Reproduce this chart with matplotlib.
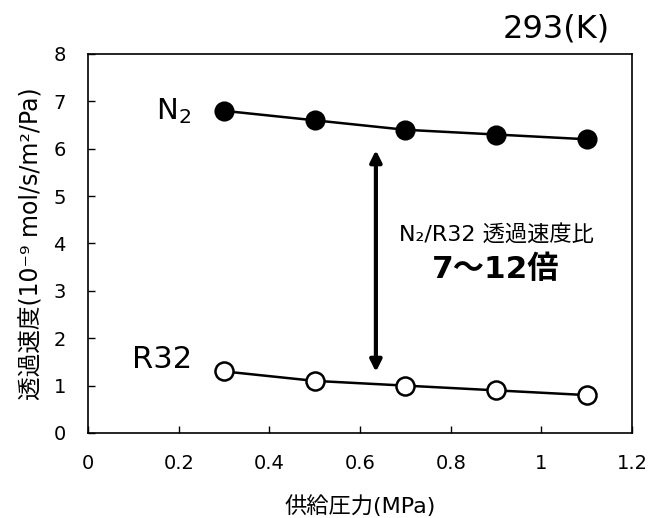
import matplotlib.pyplot as plt

plt.rcParams['font.family'] = ['DejaVu Sans', 'Noto Sans CJK JP']

pressure = [0.3, 0.5, 0.7, 0.9, 1.1]
n2_rate = [6.8, 6.6, 6.4, 6.3, 6.2]
r32_rate = [1.3, 1.1, 1.0, 0.9, 0.8]
x_ticks = [0, 0.2, 0.4, 0.6, 0.8, 1, 1.2]
x_tick_labels = ['0', '0.2', '0.4', '0.6', '0.8', '1', '1.2']
y_ticks = [0, 1, 2, 3, 4, 5, 6, 7, 8]

fig = plt.figure(figsize=(6.54, 5.18), dpi=100)
ax = fig.add_axes([0.1346, 0.1641, 0.8318, 0.7317])

ax.plot(pressure, n2_rate, color='black', lw=1.8, marker='o', markersize=13,
        markerfacecolor='black', markeredgecolor='black', markeredgewidth=1.5)
ax.plot(pressure, r32_rate, color='black', lw=1.8, marker='o', markersize=13,
        markerfacecolor='white', markeredgecolor='black', markeredgewidth=1.8)

ax.set_xlim(0, 1.2)
ax.set_ylim(0, 8)
ax.set_xticks(x_ticks)
ax.set_xticklabels(x_tick_labels)
ax.set_yticks(y_ticks)
ax.tick_params(axis='both', direction='in', length=5, width=1, labelsize=14)
ax.tick_params(axis='x', pad=15)
ax.tick_params(axis='y', pad=16)
for sp in ax.spines.values():
    sp.set_linewidth(1.2)

ax.set_xlabel('供給圧力(MPa)', fontsize=16, labelpad=16)
ax.set_ylabel('透過速度(10⁻⁹ mol/s/m²/Pa)', fontsize=17, labelpad=7)

# series labels
ax.text(0.226, 6.8, 'N$_2$', fontsize=21, ha='right', va='center')
ax.text(0.229, 1.55, 'R32', fontsize=22, ha='right', va='center')

# ratio arrow
ax.annotate('', xy=(0.635, 5.97), xytext=(0.635, 1.29),
            arrowprops=dict(arrowstyle='<|-|>', lw=3, color='black',
                            mutation_scale=17, shrinkA=0, shrinkB=0))
ax.text(0.9, 4.2, 'N₂/R32 透過速度比', fontsize=16, ha='center', va='center')
ax.text(0.9, 3.45, '7〜12倍', fontsize=22.5, fontweight='bold', ha='center', va='center')

fig.text(0.933, 0.944, '293(K)', fontsize=23, ha='right', va='center')

plt.savefig('out.png', dpi=100)
